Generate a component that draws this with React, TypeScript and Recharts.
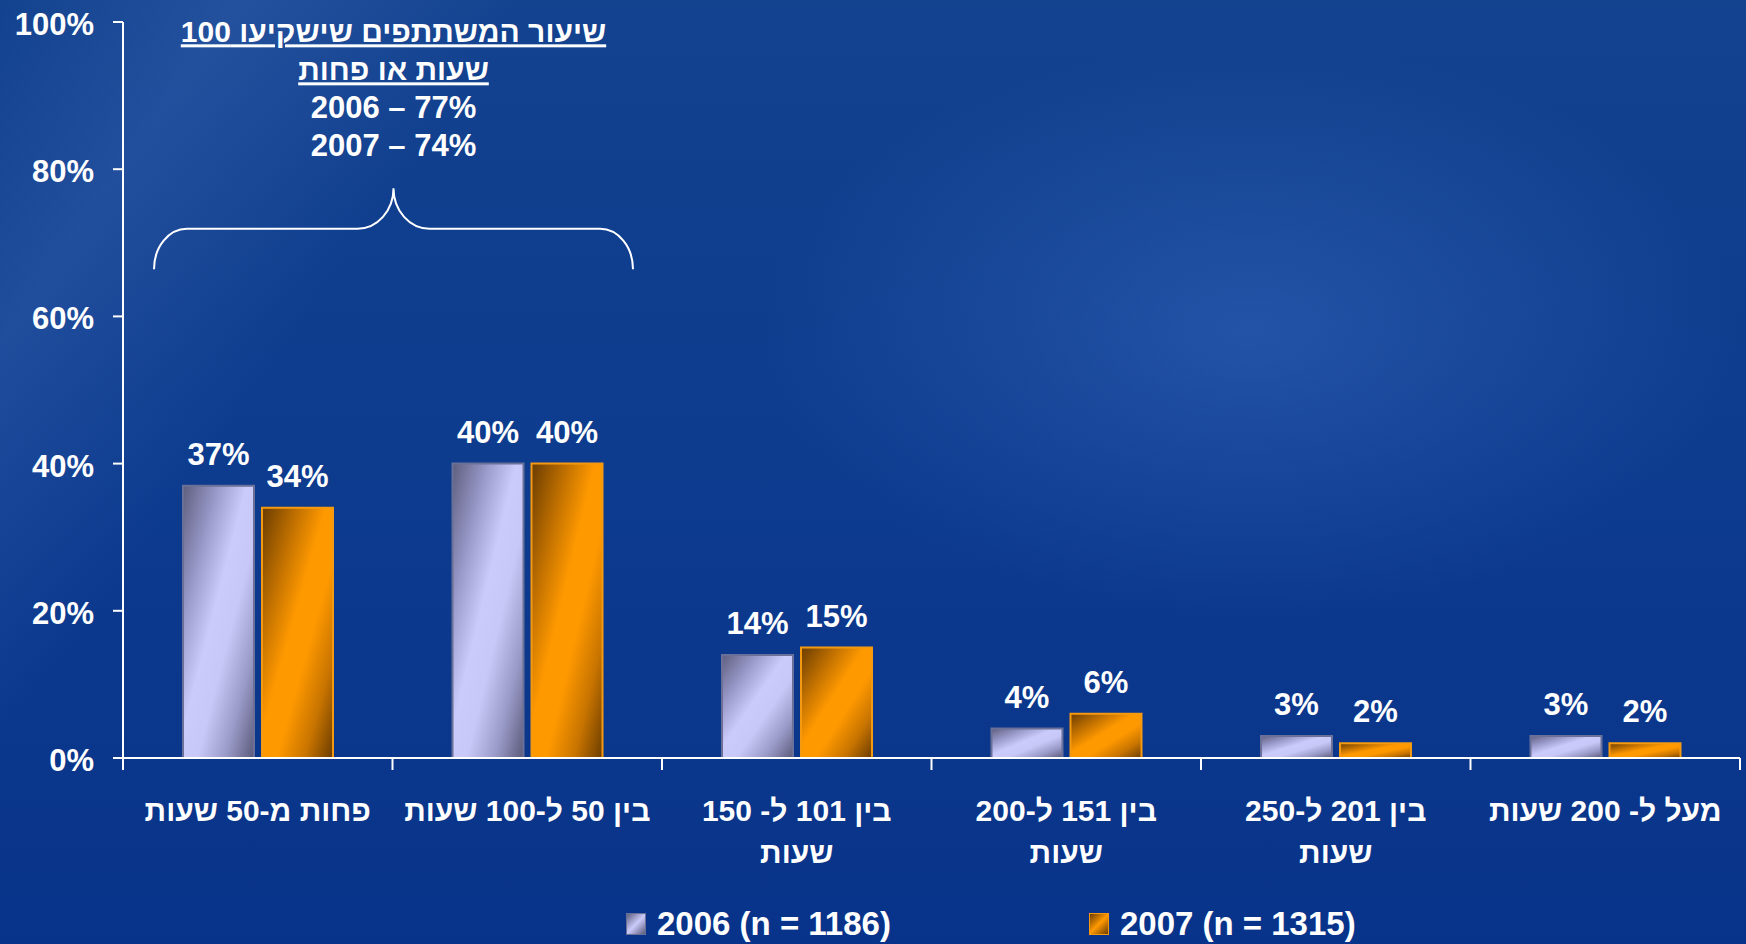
import React from 'react';
import { BarChart, Bar, XAxis, YAxis, LabelList, Legend, ReferenceArea } from 'recharts';

// categories (hours invested), one "\n" per line break in the axis label
const categories = [
  'פחות מ-50 שעות',
  'בין 50 ל-100 שעות',
  'בין 101 ל- 150\nשעות',
  'בין 151 ל-200\nשעות',
  'בין 201 ל-250\nשעות',
  'מעל ל- 200 שעות',
];
const values2006 = [37, 40, 14, 4, 3, 3];
const values2007 = [34, 40, 15, 6, 2, 2];
const yTicks = [0, 20, 40, 60, 80, 100];
const seriesNames = ['2006 (n = 1186)', '2007 (n = 1315)'];
const annotationLines = ['שיעור המשתתפים שישקיעו 100', 'שעות או פחות', '2006 – 77%', '2007 – 74%'];
// brace spans the first two categories, between these y values
const braceRange = [66.4, 77.4];

const data = categories.map((name, i) => ({
  name,
  y2006: values2006[i],
  y2007: values2007[i],
}));

const FONT = '"Liberation Sans", Arial, sans-serif';

function YTick(props: any) {
  const { x, y, payload } = props;
  return (
    <text x={x} y={y} dy={13} textAnchor="end" fill="#fff" fontSize={31} fontWeight={700} fontFamily={FONT}>
      {payload.value}%
    </text>
  );
}

function CategoryTick(props: any) {
  const { x, y, payload, index } = props;
  const half = payload && payload.offset > 10 ? payload.offset : 134.8;
  const lines = String(payload.value).split('\n');
  return (
    <g>
      <line x1={x - half} x2={x - half} y1={y} y2={y + 12} stroke="#fff" strokeWidth={2} />
      {index === categories.length - 1 && (
        <line x1={x + half} x2={x + half} y1={y} y2={y + 12} stroke="#fff" strokeWidth={2} />
      )}
      {lines.map((l, i) => (
        <text
          key={i}
          x={x}
          y={y + 63 + i * 42}
          textAnchor="middle"
          direction="rtl"
          fill="#fff"
          fontSize={30}
          fontWeight={700}
          fontFamily={FONT}
        >
          {l}
        </text>
      ))}
    </g>
  );
}

function ValueLabel(props: any) {
  const { x, y, width, value } = props;
  return (
    <text x={x + width / 2} y={y - 21} textAnchor="middle" fill="#fff" fontSize={31} fontWeight={700} fontFamily={FONT}>
      {value}%
    </text>
  );
}

function BraceShape(props: any) {
  const { x, y, width, height } = props;
  const xl = x + 31;
  const xr = x + width - 29;
  const cx = (xl + xr) / 2;
  const yt = y;
  const yb = y + height;
  const ym = y + height * 0.5;
  const r1 = 33;
  const r2 = 36;
  const d = [
    `M ${xl} ${yb}`,
    `A ${r1} ${yb - ym} 0 0 1 ${xl + r1} ${ym}`,
    `H ${cx - r2}`,
    `A ${r2} ${ym - yt} 0 0 0 ${cx} ${yt}`,
    `A ${r2} ${ym - yt} 0 0 0 ${cx + r2} ${ym}`,
    `H ${xr - r1}`,
    `A ${r1} ${yb - ym} 0 0 1 ${xr} ${yb}`,
  ].join(' ');
  const baselines = [yt - 146, yt - 108, yt - 70, yt - 32];
  return (
    <g>
      <path d={d} fill="none" stroke="#fff" strokeWidth={2} />
      {annotationLines.map((l, i) => (
        <text
          key={i}
          x={cx}
          y={baselines[i]}
          textAnchor="middle"
          direction={i < 2 ? 'rtl' : 'ltr'}
          fill="#fff"
          fontSize={i < 2 ? 30 : 31}
          fontWeight={700}
          fontFamily={FONT}
          style={{ textDecoration: i < 2 ? 'underline' : 'none' }}
        >
          {l}
        </text>
      ))}
    </g>
  );
}

const legendSwatch = [
  'linear-gradient(135deg, #5e5e7e 0%, #cbcbfb 50%, #5a5a7a 100%)',
  'linear-gradient(135deg, #6a3c00 0%, #ff9900 50%, #6a3c00 100%)',
];
const legendBorder = ['#6a7098', '#f59a10'];

function LegendContent() {
  return (
    <div
      style={{
        height: 40,
        display: 'flex',
        alignItems: 'center',
        paddingLeft: 626,
        fontFamily: FONT,
        fontWeight: 700,
        fontSize: 33,
        color: '#fff',
      }}
    >
      {seriesNames.map((s, i) => (
        <div key={s} style={{ display: 'flex', alignItems: 'center', marginRight: i === 0 ? 198 : 0 }}>
          <div
            style={{
              width: 18,
              height: 20,
              background: legendSwatch[i],
              border: `1px solid ${legendBorder[i]}`,
              marginRight: 11,
            }}
          />
          <span>{s}</span>
        </div>
      ))}
    </div>
  );
}

export default function App() {
  return (
    <div
      style={{
        width: 1746,
        height: 944,
        position: 'relative',
        overflow: 'hidden',
        background: [
          'linear-gradient(125deg, rgba(120,160,230,0) 0%, rgba(120,160,230,0.16) 10%, rgba(120,160,230,0) 22%)',
          'radial-gradient(ellipse 650px 380px at 1250px 330px, rgba(60,110,195,0.45), rgba(60,110,195,0) 75%)',
          'linear-gradient(180deg, #13428f 0%, #0d3b8e 50%, #08338a 100%)',
        ].join(','),
      }}
    >
      <style>{'body{margin:0}'}</style>
      <BarChart
        width={1746}
        height={944}
        data={data}
        margin={{ top: 22, right: 6, left: 0, bottom: 0 }}
        barCategoryGap={60}
        barGap={8}
      >
        <defs>
          <linearGradient id="g2006" x1="0" y1="0" x2="1" y2="1">
            <stop offset="0" stopColor="#5e5e7e" />
            <stop offset="0.25" stopColor="#9a9acb" />
            <stop offset="0.45" stopColor="#cbcbfb" />
            <stop offset="0.6" stopColor="#c8c8f8" />
            <stop offset="0.8" stopColor="#9a9ac8" />
            <stop offset="1" stopColor="#5a5a7a" />
          </linearGradient>
          <linearGradient id="g2007" x1="0" y1="0" x2="1" y2="1">
            <stop offset="0" stopColor="#6a3c00" />
            <stop offset="0.25" stopColor="#c07000" />
            <stop offset="0.45" stopColor="#ff9900" />
            <stop offset="0.6" stopColor="#ff9900" />
            <stop offset="0.8" stopColor="#c87400" />
            <stop offset="1" stopColor="#6a3c00" />
          </linearGradient>
        </defs>
        <XAxis
          dataKey="name"
          interval={0}
          height={146}
          tickLine={false}
          tickSize={0}
          tickMargin={0}
          axisLine={{ stroke: '#fff', strokeWidth: 2 }}
          tick={<CategoryTick />}
        />
        <YAxis
          width={123}
          domain={[0, 100]}
          ticks={yTicks}
          tickSize={10}
          tickMargin={19}
          axisLine={{ stroke: '#fff', strokeWidth: 2 }}
          tickLine={{ stroke: '#fff', strokeWidth: 2 }}
          tick={<YTick />}
        />
        <Legend verticalAlign="bottom" content={<LegendContent />} />
        <ReferenceArea x1={categories[0]} x2={categories[1]} y1={braceRange[0]} y2={braceRange[1]} ifOverflow="visible" shape={BraceShape} />
        <Bar dataKey="y2006" name={seriesNames[0]} fill="url(#g2006)" stroke="#6a7098" strokeWidth={2} isAnimationActive={false}>
          <LabelList dataKey="y2006" content={<ValueLabel />} />
        </Bar>
        <Bar dataKey="y2007" name={seriesNames[1]} fill="url(#g2007)" stroke="#f59a10" strokeWidth={2} isAnimationActive={false}>
          <LabelList dataKey="y2007" content={<ValueLabel />} />
        </Bar>
      </BarChart>
    </div>
  );
}
